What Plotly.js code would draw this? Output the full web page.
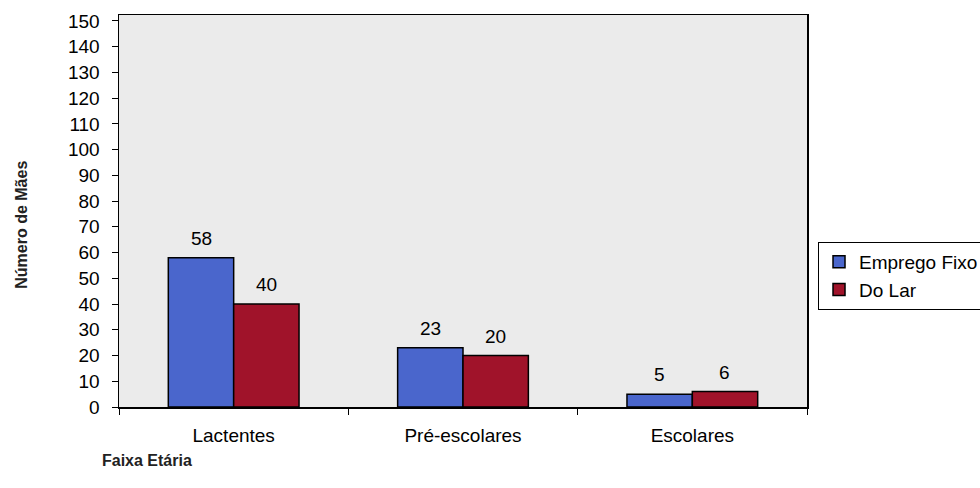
<!DOCTYPE html>
<html>
<head>
<meta charset="utf-8">
<script src="https://cdn.plot.ly/plotly-3.0.1.min.js"></script>
<style>html,body{margin:0;padding:0;background:#fff;}#chart{width:980px;height:488px;}</style>
</head>
<body>
<div id="chart"></div>
<script>
const categories = ["Lactentes", "Pré-escolares", "Escolares"];
const empregoFixo = [58, 23, 5];
const doLar = [40, 20, 6];
const seriesNames = ["Emprego Fixo", "Do Lar"];
const yTicks = [0,10,20,30,40,50,60,70,80,90,100,110,120,130,140,150];

const FONT = "Arial, 'Liberation Sans', sans-serif";
const FS = 19;
const traces = [
  {type:'bar', name:seriesNames[0], x:categories, y:empregoFixo,
   marker:{color:'#4a66cc', line:{color:'#000', width:1.5}}},
  {type:'bar', name:seriesNames[1], x:categories, y:doLar,
   marker:{color:'#a0132a', line:{color:'#000', width:1.5}}}
];

const annotations = [];
const series = [empregoFixo, doLar];
series.forEach((vals, s) => {
  vals.forEach((v, i) => {
    annotations.push({x:categories[i], y:v, xref:'x', yref:'y', text:String(v),
      showarrow:false, yanchor:'bottom', yshift:7, xshift:(s===0?-32.5:32.5),
      font:{family:FONT, size:FS, color:'#000'}});
  });
});
annotations.push({xref:'paper', yref:'paper', x:0, y:0.465, xanchor:'center', yanchor:'middle',
  text:'<b>Número de Mães</b>', textangle:-90, showarrow:false, xshift:-97,
  font:{family:FONT, size:16, color:'#222'}});
annotations.push({xref:'paper', yref:'paper', x:0, y:0, xanchor:'left', yanchor:'middle',
  text:'<b>Faixa Etária</b>', showarrow:false, xshift:-19, yshift:-53,
  font:{family:FONT, size:16, color:'#222'}});

const layout = {
  width:980, height:488,
  margin:{l:119, r:173, t:15, b:81, autoexpand:false},
  paper_bgcolor:'#ffffff', plot_bgcolor:'#ebebeb',
  barmode:'group', bargap:0.43, bargroupgap:0,
  font:{family:FONT, size:FS, color:'#000'},
  showlegend:true,
  legend:{x:1.016, y:0.421, xanchor:'left', yanchor:'top', bgcolor:'#fff',
    bordercolor:'#000', borderwidth:1, font:{family:FONT, size:FS, color:'#000'}},
  xaxis:{type:'category', showline:true, linecolor:'#000', linewidth:1.5, mirror:true,
    ticks:'outside', tickson:'boundaries', ticklen:6, tickcolor:'#000',
    showgrid:false, tickfont:{family:FONT, size:FS}, ticklabelstandoff:11},
  yaxis:{range:[0,152.3], tickvals:yTicks, showline:true, linecolor:'#000', linewidth:1.5, mirror:true,
    ticks:'outside', ticklen:6, tickcolor:'#000', showgrid:false, zeroline:false,
    tickfont:{family:FONT, size:FS}, ticklabelstandoff:8},
  annotations:annotations
};
Plotly.newPlot('chart', traces, layout, {displayModeBar:false, staticPlot:true});
</script>
</body>
</html>
